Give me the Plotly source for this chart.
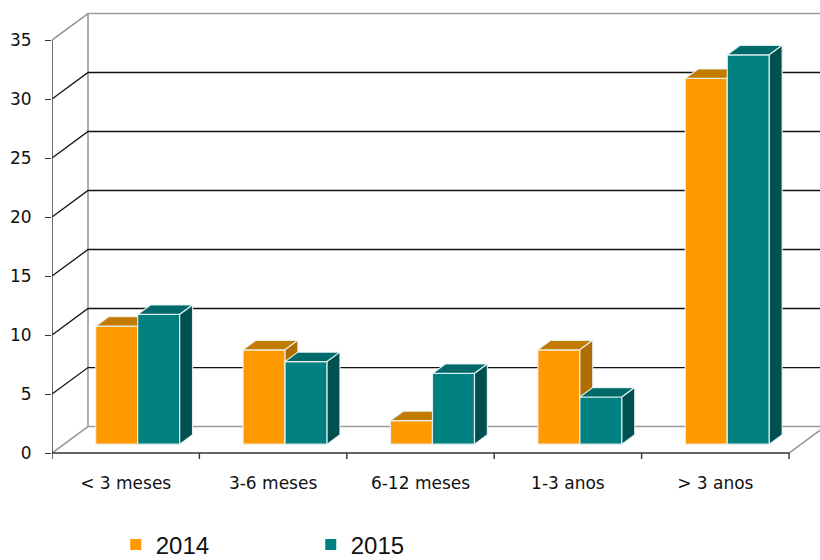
import plotly.graph_objects as go

# ---- data ----
categories = ["< 3 meses", "3-6 meses", "6-12 meses", "1-3 anos", "> 3 anos"]
series_names = ["2014", "2015"]
values_2014 = [10, 8, 2, 8, 31]
values_2015 = [11, 7, 6, 4, 33]
y_ticks = [0, 5, 10, 15, 20, 25, 30, 35]

# ---- 3D geometry (depth offsets in data units) ----
DX = 0.2442   # full depth shift along x (category units)
DY = 2.246    # full depth shift along y (value units)
D0, D1 = 0.333, 0.69   # bar front / back depth fractions
W = 0.285     # bar width (category units)
X_MIN, X_MAX = -0.5, 4.5 + 31 / 147.4
Y_MIN, Y_MAX = -0.59, 38.39

colors = {
    "2014": {"front": "#FF9900", "top": "#C27A00", "side": "#B06E00"},
    "2015": {"front": "#008080", "top": "#006A6A", "side": "#005050"},
}
edge = "rgba(235,245,245,0.9)"

fig = go.Figure()


def line_trace(xs, ys, color, width):
    fig.add_trace(go.Scatter(x=xs, y=ys, mode="lines", line=dict(color=color, width=width),
                             hoverinfo="skip", showlegend=False))


# ---- walls and gridlines ----
dark_x, dark_y = [], []
gray_x, gray_y = [], []
for t in y_ticks:
    xs = [X_MIN, X_MIN + DX, X_MAX + 1, None]
    ys = [t, t + DY, t + DY, None]
    if t in (0, y_ticks[-1]):
        gray_x += xs; gray_y += ys
    else:
        dark_x += xs; dark_y += ys
# back-left vertical corner
gray_x += [X_MIN + DX, X_MIN + DX, None]
gray_y += [DY, y_ticks[-1] + DY, None]
# right floor diagonal
n = len(categories)
gray_x += [n - 0.5, n - 0.5 + DX, None]
gray_y += [0, DY, None]
line_trace(gray_x, gray_y, "#9a9a9a", 1.6)
line_trace(dark_x, dark_y, "#111111", 1.3)

# front axis line, floor edge, floor ticks
fx, fy = [X_MIN, X_MIN, None, X_MIN, n - 0.5, None], [0, y_ticks[-1], None, 0, 0, None]
for k in range(n + 1):
    fx += [k - 0.5, k - 0.5, None]
    fy += [0, -0.5, None]
line_trace(fx, fy, "#333333", 1.4)

# ---- bars ----
s = D0 * DX
b = D0 * DY
ddx = (D1 - D0) * DX
ddy = (D1 - D0) * DY


def faces(values, offset):
    front_x, front_y, top_x, top_y, side_x, side_y = [], [], [], [], [], []
    for i, v in enumerate(values):
        xl = i + s + offset
        xr = xl + W
        yt = v + b
        front_x += [xl, xr, xr, xl, xl, None]
        front_y += [b, b, yt, yt, b, None]
        top_x += [xl, xr, xr + ddx, xl + ddx, xl, None]
        top_y += [yt, yt, yt + ddy, yt + ddy, yt, None]
        side_x += [xr, xr + ddx, xr + ddx, xr, xr, None]
        side_y += [b, b + ddy, yt + ddy, yt, b, None]
    return (front_x, front_y), (top_x, top_y), (side_x, side_y)


for name, vals, off in [("2014", values_2014, -W), ("2015", values_2015, 0.0)]:
    fr, tp, sd = faces(vals, off)
    for (xs, ys), key in [(fr, "front"), (tp, "top"), (sd, "side")]:
        fig.add_trace(go.Scatter(x=xs, y=ys, mode="lines", fill="toself",
                                 fillcolor=colors[name][key],
                                 line=dict(color=edge, width=1.2),
                                 hoverinfo="skip", showlegend=False))

# legend entries
for name in series_names:
    fig.add_trace(go.Scatter(x=[None], y=[None], mode="markers", name=name,
                             marker=dict(symbol="square", size=11, color=colors[name]["front"])))

fig.update_layout(
    width=820, height=560,
    margin=dict(l=52, r=0, t=0, b=100, autoexpand=False),
    paper_bgcolor="white", plot_bgcolor="white",
    font=dict(family="DejaVu Sans", size=17, color="#111111"),
    showlegend=True,
    legend=dict(orientation="h", x=0.083, xanchor="left", yref="container",
                y=0.027, yanchor="middle",
                font=dict(family="Liberation Sans", size=24, color="#111111"),
                entrywidth=150, entrywidthmode="pixels", itemwidth=30),
    xaxis=dict(range=[X_MIN, X_MAX], tickvals=list(range(n)), ticktext=categories,
               showgrid=False, zeroline=False, showline=False, ticks="",
               ticklabelstandoff=11, fixedrange=True),
    yaxis=dict(range=[Y_MIN, Y_MAX], tickvals=y_ticks, showgrid=False, zeroline=False,
               showline=False, ticks="outside", ticklen=6, tickcolor="#333333",
               tickwidth=1.4, ticklabelstandoff=10, fixedrange=True),
)

fig.write_html("out.html", config={"displayModeBar": False},
               post_script="document.body.style.margin='0';document.body.style.overflow='hidden';")
